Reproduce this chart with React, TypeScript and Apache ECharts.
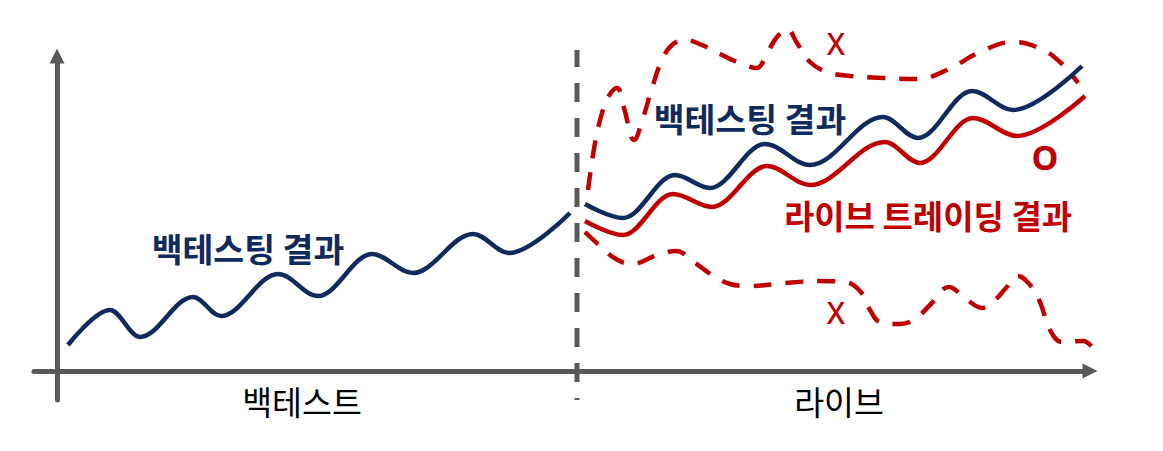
import { useEffect, useRef } from 'react';
import * as echarts from 'echarts';

const NAVY = '#0f2a5c';
const RED = '#c00000';
const GRAY = '#58595b';
const KR_FONT = '"Noto Sans CJK KR", "Noto Sans", sans-serif';
const LATIN_FONT = '"Noto Sans", "DejaVu Sans", sans-serif';

// x = position along time, y = equity level above the time axis
const backtestCurve = [
  [11, 26], [53, 61], [83, 34], [136, 74], [164, 55], [221, 97],
  [261, 75], [315, 117], [356, 98], [416, 137], [452, 118], [513, 158],
];

const liveBacktestCurve = [
  [528, 167], [566, 153], [618, 196], [653, 183], [708, 227], [753, 206],
  [826, 254], [861, 233], [915, 280], [956, 261], [1025, 305],
];

const liveTradingCurve = [
  [528, 150], [566, 136], [616, 177], [655, 164], [710, 205], [753, 186],
  [828, 229], [863, 208], [916, 253], [960, 235], [1028, 275],
];

const upperBand = [
  [531, 181], [538, 228], [545, 258], [551, 274], [560, 283], [567, 263],
  [577, 231], [586, 253], [595, 283], [605, 311], [615, 326], [628, 331],
  [645, 326], [665, 316], [685, 307], [700, 303], [710, 318], [720, 334],
  [730, 342], [740, 328], [753, 309], [770, 299], [793, 295], [826, 293],
  [860, 292], [890, 301], [923, 319], [956, 329], [986, 321], [1006, 306],
  [1021, 288],
];

const lowerBand = [
  [528, 139], [543, 125], [559, 112], [575, 107], [598, 115], [619, 120],
  [638, 108], [655, 96], [673, 87], [693, 85], [728, 88], [763, 90],
  [788, 89], [803, 80], [813, 61], [823, 49], [843, 47], [858, 52],
  [873, 66], [892, 84], [908, 73], [925, 63], [938, 71], [949, 83],
  [961, 95], [973, 86], [983, 69], [993, 41], [1005, 29], [1026, 30],
  [1040, 17],
];

const splitX = 520;
const xMin = -23;
const xMax = 1033;
const yMin = -29;
const yMax = 315;
const splitTop = 321;

const periodLabels = ['백테스트', '라이브'];

function axisStyle() {
  return {
    axisLine: {
      onZero: true,
      symbol: ['none', 'triangle'],
      symbolSize: [15, 15],
      lineStyle: { color: GRAY, width: 5 },
    },
    axisTick: { show: false },
    axisLabel: { show: false },
    splitLine: { show: false },
  };
}

function label(
  text: string,
  x: number,
  y: number,
  color: string,
  size: number,
  weight: string | number,
  family = KR_FONT,
) {
  return {
    type: 'text',
    x,
    y,
    z: 10,
    style: {
      text,
      fill: color,
      fontSize: size,
      fontWeight: weight,
      fontFamily: family,
      align: 'center',
      verticalAlign: 'middle',
      textAlign: 'center',
      textVerticalAlign: 'middle',
    },
  };
}

export default function App() {
  const ref = useRef<HTMLDivElement>(null);

  useEffect(() => {
    if (!ref.current) return;
    document.body.style.margin = '0';
    const chart = echarts.init(ref.current, null, { renderer: 'svg' });

    const solid = (data: number[][], color: string) => ({
      type: 'line',
      data,
      smooth: 0.35,
      smoothMonotone: 'x',
      symbol: 'none',
      clip: false,
      z: 3,
      lineStyle: { color, width: 4.5 },
    });

    const dashed = (data: number[][]) => ({
      type: 'line',
      data,
      smooth: 0.4,
      symbol: 'none',
      clip: false,
      z: 2,
      lineStyle: { color: RED, width: 4.5, type: [18, 14] },
    });

    chart.setOption({
      animation: false,
      backgroundColor: '#fff',
      tooltip: { show: false },
      grid: { left: 34, right: 73, top: 56, bottom: 51 },
      xAxis: { type: 'value', min: xMin, max: xMax, ...axisStyle() },
      yAxis: { type: 'value', min: yMin, max: yMax, ...axisStyle() },
      series: [
        {
          type: 'line',
          data: [[splitX, yMin], [splitX, splitTop]],
          symbol: 'none',
          clip: false,
          z: 1,
          lineStyle: { color: GRAY, width: 5, type: [19, 16], dashOffset: 17 },
        },
        solid(backtestCurve, NAVY),
        solid(liveBacktestCurve, NAVY),
        solid(liveTradingCurve, RED),
        dashed(upperBand),
        dashed(lowerBand),
      ],
      graphic: [
        label(periodLabels[0], 302, 400, '#000', 32.5, 'normal'),
        label(periodLabels[1], 839, 400, '#000', 32.5, 'normal'),
        label('백테스팅 결과', 248, 247, NAVY, 33.5, 'bold'),
        label('백테스팅 결과', 750, 117, NAVY, 33.5, 'bold'),
        label('라이브 트레이딩 결과', 928, 215, RED, 33, 'bold'),
        label('X', 836, 43, RED, 30, 500, LATIN_FONT),
        label('X', 836, 312, RED, 30, 500, LATIN_FONT),
        label('O', 1045, 157, RED, 34, 'bold', LATIN_FONT),
      ],
    });

    return () => chart.dispose();
  }, []);

  return <div ref={ref} style={{ width: 1163, height: 451, background: '#fff' }} />;
}
